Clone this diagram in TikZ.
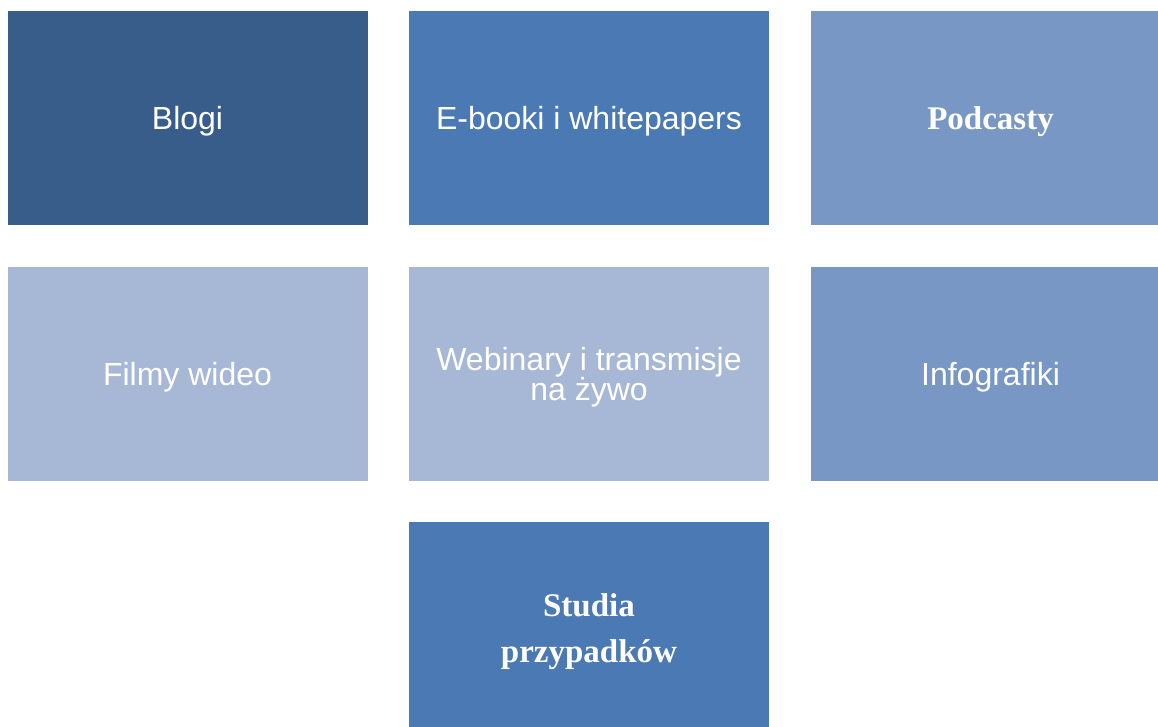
\documentclass[tikz,border=0pt]{standalone}
\usepackage{fontspec}
\setmainfont{Liberation Sans}
\newfontfamily\boldserif{Liberation Serif}
\definecolor{cdark}{HTML}{385D8A}
\definecolor{cmid}{HTML}{4A79B3}
\definecolor{clight}{HTML}{7897C4}
\definecolor{cpale}{HTML}{A7B8D6}
\begin{document}
\begin{tikzpicture}[x=1pt,y=-1pt,
  tile/.style={rectangle, inner sep=0pt, outer sep=0pt, minimum width=360pt, minimum height=213.5pt},
  sanslabel/.style={text=white, align=center, inner sep=0pt, yshift=-3pt, font=\fontsize{32}{30}\selectfont},
  seriflabel/.style={text=white, align=center, inner sep=0pt, yshift=-3.5pt, font=\boldserif\bfseries\fontsize{33}{46}\selectfont}]
\useasboundingbox (0,0) rectangle (1158,727);
\node[tile, fill=cdark] (blogi) at (187.5,118.25) {};
\node[tile, fill=cmid] (ebooki) at (589,118.25) {};
\node[tile, fill=clight] (podcasty) at (990.5,118.25) {};
\node[tile, fill=cpale] (filmy) at (187.5,373.75) {};
\node[tile, fill=cpale] (webinary) at (589,373.75) {};
\node[tile, fill=clight] (infografiki) at (990.5,373.75) {};
\node[tile, fill=cmid] (studia) at (589,628.5) {};
\node[sanslabel] (tblogi) at (blogi.center) {Blogi};
\node[sanslabel] (tebooki) at (ebooki.center) {E-booki i whitepapers};
\node[seriflabel] (tpodcasty) at (podcasty.center) {Podcasty};
\node[sanslabel] (tfilmy) at (filmy.center) {Filmy wideo};
\node[sanslabel] (twebinary) at (webinary.center) {Webinary i transmisje\\na żywo};
\node[sanslabel] (tinfografiki) at (infografiki.center) {Infografiki};
\node[seriflabel] (tstudia) at (studia.center) {Studia\\przypadków};
\end{tikzpicture}
\end{document}
